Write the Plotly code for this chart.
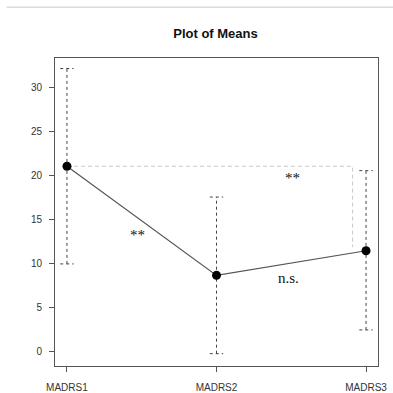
import plotly.graph_objects as go

categories = ["MADRS1", "MADRS2", "MADRS3"]
means = [21.1, 8.7, 11.5]
lower = [10.0, -0.2, 2.5]
upper = [32.2, 17.6, 20.6]
y_ticks = [0, 5, 10, 15, 20, 25, 30]
bracket_x = [1, 2.91, 2.91]
bracket_y = [21.1, 21.1, 11.9]
annot_text = ["**", "**", "n.s."]
annot_x = [1.47, 2.51, 2.48]
annot_y = [13.3, 19.8, 8.4]

xs = [1, 2, 3]
FONT = "Liberation Sans, Arial, sans-serif"
fig = go.Figure()

# dashed error bars with caps
cap = 0.045
for x, lo, hi in zip(xs, lower, upper):
    fig.add_trace(go.Scatter(x=[x, x], y=[lo, hi], mode="lines",
                             line=dict(color="#444", width=1, dash="3px,3px"),
                             hoverinfo="skip", showlegend=False))
    for v in (lo, hi):
        fig.add_trace(go.Scatter(x=[x - cap, x + cap], y=[v, v], mode="lines",
                                 line=dict(color="#444", width=1, dash="3px,3px"),
                                 hoverinfo="skip", showlegend=False))

# significance bracket
fig.add_trace(go.Scatter(x=bracket_x, y=bracket_y, mode="lines",
                         line=dict(color="#c8c8c8", width=1, dash="4px,3px"),
                         hoverinfo="skip", showlegend=False))

# mean line + points
fig.add_trace(go.Scatter(x=xs, y=means, mode="lines+markers",
                         line=dict(color="#555", width=1.2),
                         marker=dict(color="black", size=9),
                         showlegend=False))

for t, x, y in zip(annot_text, annot_x, annot_y):
    fnt = dict(family="Liberation Serif, Times New Roman, serif",
               size=15, color="#111")
    fig.add_annotation(x=x, y=y, text=t, showarrow=False, font=fnt)

# faint top line
fig.add_shape(type="line", xref="paper", yref="paper", x0=-0.15, x1=1.05, y0=1.165, y1=1.165,
              line=dict(color="#dcdcdc", width=1.5))

fig.update_layout(
    width=393, height=393,
    margin=dict(l=55, r=15, t=58, b=27, autoexpand=False),
    paper_bgcolor="white", plot_bgcolor="white",
    title=dict(text="<b>Plot of Means</b>", x=215.5 / 393, xanchor="center",
               y=1 - 33 / 393, yanchor="middle",
               font=dict(family=FONT, size=13, color="#111")),
    font=dict(family=FONT, size=10, color="#333"),
)
fig.update_xaxes(range=[0.92, 3.08], tickvals=xs, ticktext=categories,
                 showgrid=False, zeroline=False, showline=True, mirror=True,
                 linecolor="#555", linewidth=1, ticks="outside", ticklen=5,
                 tickcolor="#555", tickfont=dict(size=10, color="#333"),
                 ticklabelstandoff=7, automargin=False)
fig.update_yaxes(range=[-1.6, 33.4], tickvals=y_ticks,
                 showgrid=False, zeroline=False, showline=True, mirror=True,
                 linecolor="#555", linewidth=1, ticks="outside", ticklen=5,
                 tickcolor="#555", tickfont=dict(size=10, color="#333"),
                 ticklabelstandoff=5, automargin=False)

fig.write_html("out.html")
